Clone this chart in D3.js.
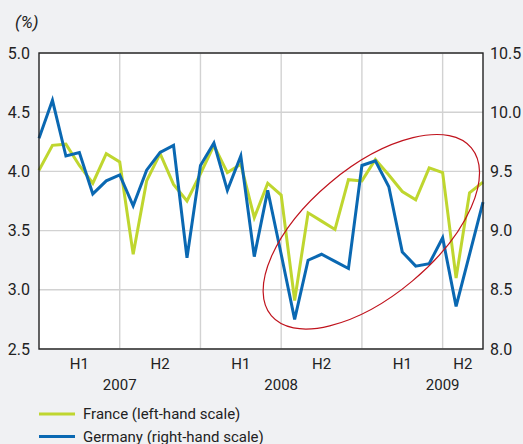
<!DOCTYPE html>
<html>
<head>
<meta charset="utf-8">
<script src="https://cdn.jsdelivr.net/npm/d3@7"></script>
<style>
  body { margin: 0; background: #f0f1f3; }
  svg { display: block; }
  text { font-family: "Liberation Sans Narrow", "Arial Narrow", "Roboto", sans-serif; fill: #222; }
</style>
</head>
<body>
<script>
// monthly values, Jan 2007 .. Oct 2009
var months = d3.range(34);
var france = [4.01, 4.22, 4.23, 4.05, 3.90, 4.15, 4.08, 3.30, 3.92, 4.15,
              3.89, 3.75, 3.98, 4.22, 3.99, 4.06, 3.61, 3.90, 3.80, 2.91,
              3.65, 3.58, 3.51, 3.93, 3.92, 4.10, 3.97, 3.83, 3.76, 4.03,
              3.99, 3.10, 3.82, 3.91];
var germany = [9.78, 10.10, 9.63, 9.66, 9.31, 9.42, 9.47, 9.21, 9.51, 9.66,
               9.72, 8.77, 9.55, 9.74, 9.34, 9.63, 8.78, 9.34, 8.80, 8.25,
               8.75, 8.80, 8.74, 8.68, 9.55, 9.59, 9.37, 8.82, 8.70, 8.72,
               8.94, 8.36, 8.80, 9.24];
var leftTicks = [2.5, 3.0, 3.5, 4.0, 4.5, 5.0];
var rightTicks = [8.0, 8.5, 9.0, 9.5, 10.0, 10.5];
var halfLabels = ['H1', 'H2', 'H1', 'H2', 'H1', 'H2'];
var halfPos = [3, 9, 15, 21, 27, 31.5];
var yearLabels = ['2007', '2008', '2009'];
var yearPos = [6, 18, 30];
var gridMonths = [6, 12, 18, 24, 30];
var seriesNames = ['France (left-hand scale)', 'Germany (right-hand scale)'];

var width = 523, height = 444;
var pLeft = 39, pRight = 483, pTop = 53, pBottom = 349;

var svg = d3.select('body').append('svg')
    .attr('width', width)
    .attr('height', height);

var x = d3.scaleLinear().domain([0, 33]).range([pLeft, pRight]);
var yL = d3.scaleLinear().domain([2.5, 5.0]).range([pBottom, pTop]);
var yR = d3.scaleLinear().domain([8.0, 10.5]).range([pBottom, pTop]);

// plot background
svg.append('rect')
    .attr('x', pLeft).attr('y', pTop)
    .attr('width', pRight - pLeft).attr('height', pBottom - pTop)
    .style('fill', '#fff');

// grid
svg.selectAll('.hgrid')
    .data(leftTicks)
    .enter().append('line')
    .attr('x1', pLeft).attr('x2', pRight)
    .attr('y1', function (d) { return yL(d); })
    .attr('y2', function (d) { return yL(d); })
    .style('stroke', '#d2d2d2').style('stroke-width', 1.4);

svg.selectAll('.vgrid')
    .data(gridMonths)
    .enter().append('line')
    .attr('y1', pTop).attr('y2', pBottom)
    .attr('x1', function (d) { return x(d); })
    .attr('x2', function (d) { return x(d); })
    .style('stroke', '#d2d2d2').style('stroke-width', 1.4);

// lines
var lineF = d3.line()
    .x(function (d) { return x(d); })
    .y(function (d) { return yL(france[d]); });
var lineG = d3.line()
    .x(function (d) { return x(d); })
    .y(function (d) { return yR(germany[d]); });

svg.append('path')
    .attr('d', lineF(months))
    .style('fill', 'none').style('stroke', '#bfd62f').style('stroke-width', 3);
svg.append('path')
    .attr('d', lineG(months))
    .style('fill', 'none').style('stroke', '#0a68b2').style('stroke-width', 3);

// highlight ellipse
svg.append('ellipse')
    .attr('transform', 'translate(' + x(24.7) + ',' + yL(3.49) + ') rotate(-40)')
    .attr('rx', 130.6).attr('ry', 64.1)
    .style('fill', 'none').style('stroke', '#c0131d').style('stroke-width', 1.2);

// frame
svg.append('rect')
    .attr('x', pLeft).attr('y', pTop)
    .attr('width', pRight - pLeft).attr('height', pBottom - pTop)
    .style('fill', 'none').style('stroke', '#222').style('stroke-width', 1.4);

// axis labels
svg.selectAll('.ltick')
    .data(leftTicks)
    .enter().append('text')
    .attr('x', 30)
    .attr('y', function (d) { return yL(d); })
    .attr('dy', '0.35em')
    .style('text-anchor', 'end')
    .style('font-size', '16px')
    .text(function (d) { return d3.format('.1f')(d); });

svg.selectAll('.rtick')
    .data(rightTicks)
    .enter().append('text')
    .attr('x', 490)
    .attr('y', function (d) { return yR(d); })
    .attr('dy', '0.35em')
    .style('font-size', '16px')
    .text(function (d) { return d3.format('.1f')(d); });

svg.append('text')
    .attr('x', 15).attr('y', 28)
    .style('font-size', '17px').style('font-style', 'italic')
    .text('(%)');

svg.selectAll('.half')
    .data(halfLabels)
    .enter().append('text')
    .attr('x', function (d, i) { return x(halfPos[i]); })
    .attr('y', 369)
    .style('text-anchor', 'middle')
    .style('font-size', '15px')
    .text(function (d) { return d; });

svg.selectAll('.year')
    .data(yearLabels)
    .enter().append('text')
    .attr('x', function (d, i) { return x(yearPos[i]); })
    .attr('y', 390)
    .style('text-anchor', 'middle')
    .style('font-size', '15px')
    .text(function (d) { return d; });

// legend
var colors = ['#bfd62f', '#0a68b2'];
var lg = svg.selectAll('.leg')
    .data(seriesNames)
    .enter().append('g')
    .attr('transform', function (d, i) { return 'translate(39,' + (414 + i * 22.5) + ')'; });
lg.append('line')
    .attr('x1', 0).attr('x2', 36)
    .style('stroke', function (d, i) { return colors[i]; })
    .style('stroke-width', 3);
lg.append('text')
    .attr('x', 44).attr('dy', '0.35em')
    .style('font-size', '15px')
    .text(function (d) { return d; });
</script>
</body>
</html>
